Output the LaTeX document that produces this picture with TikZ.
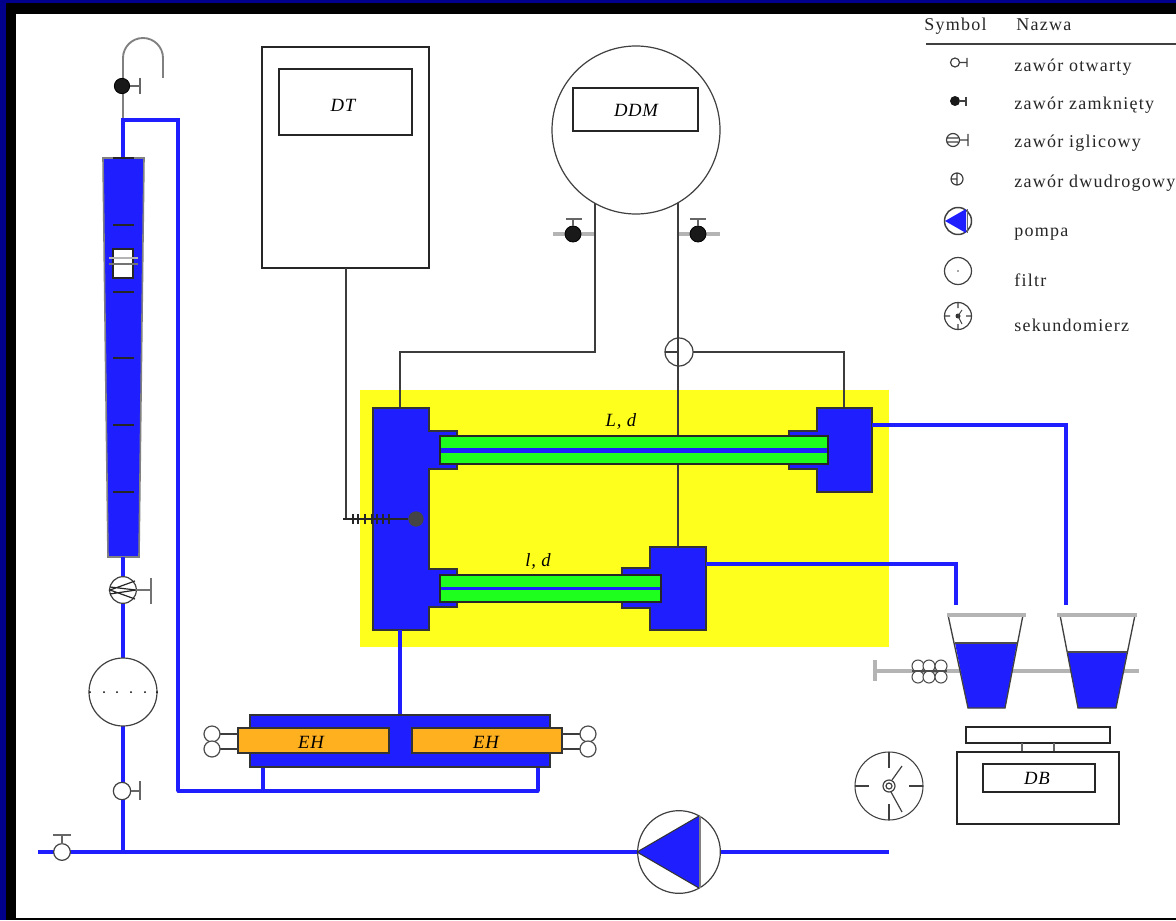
\documentclass[tikz,border=0pt]{standalone}
\usepackage{fontspec}
\setmainfont{Liberation Serif}
\newfontfamily\legfont[LetterSpace=7]{Liberation Serif}
\newfontfamily\labfont[LetterSpace=4,ItalicFont={Liberation Serif Italic}]{Liberation Serif}
\definecolor{navyb}{HTML}{00008C}
\definecolor{pipe}{HTML}{1E1EFF}
\definecolor{yel}{HTML}{FFFF1E}
\definecolor{grn}{HTML}{1EFF1E}
\definecolor{org}{HTML}{FFB01E}
\definecolor{rodgray}{HTML}{B4B4B4}
\definecolor{wire}{HTML}{3C3C3C}
\definecolor{sens}{HTML}{444444}
\tikzset{
  wireline/.style={draw=wire,line width=1pt},
  pipeline/.style={draw=pipe,line width=3pt},
  thinpipe/.style={draw=pipe,line width=2.4pt},
  rodline/.style={draw=rodgray,line width=2.4pt},
  bx/.style={draw=black!85,line width=1.1pt,fill=white,inner sep=0pt,outer sep=0pt},
  blueblock/.style={draw=black!80,line width=1.2pt,fill=pipe,line join=miter},
  tube/.style={draw=black!85,line width=1.3pt,fill=grn,inner sep=0pt,outer sep=0pt},
  heater/.style={draw=black!80,line width=1.1pt,fill=org,inner sep=0pt,outer sep=0pt},
  vcirc/.style={circle,draw=black!75,line width=.9pt,fill=white,inner sep=0pt,outer sep=0pt},
  vclosed/.style={circle,draw=black,line width=.6pt,fill=black!90,inner sep=0pt,outer sep=0pt},
  lab/.style={font=\labfont\itshape\fontsize{14}{16}\selectfont,inner sep=0pt},
  leg/.style={anchor=west,inner sep=0pt,font=\legfont\fontsize{13.5}{16}\selectfont,text=black!85},
  handle/.style={draw=black!60,line width=1pt},
}
\newcommand{\bxnode}[7]{%
  \pgfmathsetmacro{\bxcx}{(#3+#5)/2}\pgfmathsetmacro{\bxcy}{(#4+#6)/2}%
  \pgfmathsetmacro{\bxw}{(#5-#3)*.75}\pgfmathsetmacro{\bxh}{(#6-#4)*.75}%
  \node[#2,rectangle,minimum width=\bxw pt,minimum height=\bxh pt] (#1) at (\bxcx,\bxcy) {#7};}
\begin{document}
\begin{tikzpicture}[x=.75pt,y=-.75pt]
\useasboundingbox (0,0) rectangle (1176,920);
% frame
\fill[black] (0,0) rectangle (1176,920);
\fill[navyb] (0,0) rectangle (1176,3);
\fill[navyb] (0,0) rectangle (6,920);
\fill[white] (16,14) rectangle (1176,918);
% yellow field
\fill[yel] (360,390) rectangle (889,647);
% DT
\bxnode{dt}{bx}{262}{47}{429}{268}{}
\bxnode{dtd}{bx}{279}{69}{412}{135}{}
\node[lab] (dtl) at (343,105) {DT};
% DDM
\node[vcirc,minimum size=126pt] (ddm) at (636,130) {};
\bxnode{ddmd}{bx}{573}{88}{698}{131}{}
\node[lab] (ddml) at (636,110) {DDM};
% rods for DDM valves
\coordinate (vlL) at (553,234); \coordinate (vlR) at (595,234);
\coordinate (vrL) at (678,234); \coordinate (vrR) at (720,234);
\draw[rodline] (vlL) -- (vlR);
\draw[rodline] (vrL) -- (vrR);
\node[vclosed,minimum size=12pt] (vl) at (573,234) {};
\node[vclosed,minimum size=12pt] (vr) at (698,234) {};
\draw[handle] (vl.north) -- (573,219) (566,219) -- (582,219);
\draw[handle] (vr.north) -- (698,219) (690,219) -- (706,219);
% tubes etc
\coordinate (jl) at (595,352);
\coordinate (lt) at (400,408);
\coordinate (rt) at (844,408);
\coordinate (bt) at (678,547);
\node[vcirc,minimum size=21pt] (tw) at (679,352) {};
\draw[wireline] (tw.west) -- (tw.center);
\draw[wireline] (ddm.240.8 -| jl) -- (jl) -- (400,352) -- (lt);
\draw[wireline] (ddm.-60 -| bt) -- (bt);
\draw[wireline] (tw.east) -- (844,352) -- (rt);
% DT line + sensor
\coordinate (dtj) at (346,519);
\draw[wireline] (dt.south -| dtj) -- (dtj);
% blocks
\draw[blueblock] (373,408) -- (429,408) -- (429,431) -- (457,431) -- (457,469) -- (429,469) -- (429,569) -- (457,569) -- (457,607) -- (429,607) -- (429,630) -- (373,630) -- cycle;
\draw[blueblock] (872,408) -- (817,408) -- (817,431) -- (789,431) -- (789,469) -- (817,469) -- (817,492) -- (872,492) -- cycle;
\draw[blueblock] (706,547) -- (650,547) -- (650,568) -- (622,568) -- (622,608) -- (650,608) -- (650,630) -- (706,630) -- cycle;
\foreach \tx in {353,358,365,372,377,383,389}{\draw[black!85,line width=1pt] (\tx,514) -- (\tx,524);}
\node[circle,fill=sens,minimum size=11.5pt,inner sep=0pt] (sensor) at (416,519) {};
\draw[black!85,line width=1pt] (343,519) -- (sensor);
% green tubes
\bxnode{t1}{tube}{440}{436}{828}{464}{}
\fill[pipe] (441,447.5) rectangle (827,452.5);
\bxnode{t2}{tube}{440}{575}{661}{602}{}
\fill[pipe] (441,587) rectangle (660,590);
\node[lab] (l1) at (621,421) {L, d};
\node[lab] (l2) at (538,561) {l, d};
% outlets
\coordinate (o1) at (1066,605); \coordinate (o2) at (956,605);
\draw[pipeline,line join=miter] (872,425) -- (1066,425) -- (o1);
\draw[pipeline,line join=miter] (706,564) -- (956,564) -- (o2);
% beakers
\draw[rodline] (875,671) -- (1139,671);
\draw[rodline] (875,660) -- (875,681);
\foreach \cx in {918,929,941}{\foreach \cy in {666,677}{\draw[black!70,line width=.8pt,fill=white] (\cx,\cy) circle (6);}}
\draw[black!70,line width=1pt] (912,671) -- (947,671);
\fill[pipe] (955,643) -- (1017,643) -- (1005,708) -- (968,708) -- cycle;
\fill[pipe] (1067,652) -- (1127,652) -- (1116,708) -- (1078,708) -- cycle;
\draw[black!75,line width=1pt] (948,615) -- (968,708) -- (1005,708) -- (1023,615);
\draw[black!75,line width=1pt] (1060,615) -- (1078,708) -- (1116,708) -- (1135,615);
\draw[black!70,line width=.9pt] (955,643) -- (1017,643) (1067,652) -- (1127,652);
\draw[rodline] (947,615) -- (1026,615);
\draw[rodline] (1057,615) -- (1137,615);
% balance
\bxnode{plate}{bx}{966}{727}{1110}{743}{}
\draw[black!60,line width=1pt] (1022,743) -- (1022,752) (1054,743) -- (1054,752);
\bxnode{bal}{bx}{957}{752}{1119}{824}{}
\bxnode{bald}{bx}{983}{764}{1095}{792}{}
\node[lab] (dbl) at (1037,778) {DB};
% stopwatch
\node[vcirc,minimum size=51pt,line width=.8pt] (sw) at (889,786) {};
\draw[black!75,line width=.9pt] (889,752) -- (889,768) (889,804) -- (889,820) (855,786) -- (869,786) (909,786) -- (923,786);
\draw[black!75,line width=.9pt] (889,786) circle (6) (889,786) circle (3);
\draw[black!75,line width=.9pt] (892,780) -- (902,766) (891,792) -- (902,812);
% rotameter
\coordinate (rtop) at (123,158);
\draw[draw=black!50,line width=1.4pt] (123,120) -- (123,58) arc[start angle=180,end angle=360,radius=20] -- (163,78);
\draw[pipeline,line join=miter] (178,791) -- (178,120) -- (123,120) -- (rtop);
\draw[blueblock,draw=black!50] (103,158) -- (144,158) -- (139,557) -- (108,557) -- cycle;
\foreach \ty in {225,292,358,425,492}{\draw[black!85,line width=1pt] (113,\ty) -- (134,\ty);}
\draw[black!85,line width=1pt] (113,158) -- (134,158);
\bxnode{flt}{bx}{113}{249}{133}{278}{}
\draw[rodgray,line width=1.5pt] (109,258) -- (138,258);
\draw[black!55,line width=.9pt] (109,264) -- (138,264);
% closed top valve
\node[vclosed,minimum size=11.5pt] (vtop) at (122,86) {};
\draw[handle] (vtop.east) -- (140,86) (140,78) -- (140,94);
% vertical feed
\draw[pipeline] (123,557) -- (123,852);
% needle valve
\node[vcirc,minimum size=20pt] (nv) at (123,590) {};
\draw[black!85,line width=.9pt] (135,581) -- (110,590) -- (135,599) (110,587) -- (136,590) -- (110,594);
\draw[black!55,line width=1.2pt] (nv.east) -- (151,590) (151,578) -- (151,604);
% filter
\node[vcirc,minimum size=51pt,line width=.9pt] (filt) at (123,692) {};
\foreach \dx in {90,104,117,131,145,157}{\fill[black] (\dx,692) circle (1);}
% open valve
\node[vcirc,minimum size=13pt] (ov) at (122,791) {};
\draw[handle] (ov.east) -- (140,791) (140,781) -- (140,800);
% bottom line + pump
\draw[pipeline,line width=2.6pt] (38,852) -- (889,852);
\node[vcirc,minimum size=12.5pt] (inv) at (62,852) {};
\draw[handle] (inv.north) -- (62,835) (53,835) -- (71,835);
\node[vcirc,minimum size=62pt] (pump) at (679,852) {};
\fill[pipe] (637,852) -- (699,816) -- (699,888) -- cycle;
\draw[black!80,line width=.8pt] (637,852) -- (699,816);
\draw[black!80,line width=.8pt] (637,852) -- (699,888);
\draw[black!50,line width=1.2pt] (700,816) -- (700,888);
% heater
\draw[pipeline] (400,630) -- (400,716);
\draw[thinpipe] (263,767) -- (263,791) (538,767) -- (538,791);
\draw[thinpipe,line cap=round] (178,791) -- (538,791);
\bxnode{hb}{blueblock}{250}{715}{550}{767}{}
\bxnode{h1}{heater}{238}{728}{389}{753}{}
\bxnode{h2}{heater}{412}{728}{562}{753}{}
\node[lab] (eh1) at (311,742.5) {EH};
\node[lab] (eh2) at (486,742.5) {EH};
\foreach \cy in {734,749}{
  \draw[wireline] (219,\cy) -- (238,\cy) (562,\cy) -- (581,\cy);
  \draw[black!70,line width=.9pt,fill=white] (212,\cy) circle (8);
  \draw[black!70,line width=.9pt,fill=white] (588,\cy) circle (8);
}
% legend
\node[leg] (ls) at (924,26) {Symbol};
\node[leg] (ln) at (1016,25) {Nazwa};
\draw[black!75,line width=1.4pt] (926,44) -- (1176,44);
\node[leg] (a1) at (1014,67) {zawór otwarty};
\node[leg] (a2) at (1014,105) {zawór zamknięty};
\node[leg] (a3) at (1014,143) {zawór iglicowy};
\node[leg] (a4) at (1014,183) {zawór dwudrogowy};
\node[leg] (a5) at (1014,234) {pompa};
\node[leg] (a6) at (1014,280) {filtr};
\node[leg] (a7) at (1014,325) {sekundomierz};
% legend symbols
\draw[black!75,line width=.9pt] (955,62.5) circle (4.5) (959,62.5) -- (967,62.5) (967,58) -- (967,67);
\fill[black!90] (955,101) circle (5);
\draw[black!75,line width=.9pt] (959,101) -- (966,101) (966,97) -- (966,106);
\draw[black!75,line width=.9pt] (953,140) circle (6.5) (959,140) -- (968,140) (968,134) -- (968,146) (947,138) -- (958,138) (947,142) -- (958,142);
\draw[black!75,line width=.9pt] (957,179) circle (6) (957,173) -- (957,185) (951,179) -- (957,179);
\draw[black!75,line width=1.1pt] (958,221) circle (13.5);
\fill[pipe] (945,221) -- (966,209) -- (966,233) -- cycle;
\draw[black!60,line width=.6pt] (967,209) -- (967,233);
\draw[black!75,line width=.9pt] (958,271) circle (13.5);
\fill[black!70] (958,271) circle (.9);
\draw[black!75,line width=.9pt] (958,316) circle (13.5) (958,302) -- (958,308) (958,324) -- (958,330) (944,316) -- (950,316) (966,316) -- (972,316);
\fill[black!80] (958,316) circle (2.5);
\draw[black!75,line width=.7pt] (958,316) -- (962,310) (958,316) -- (962,324);
\end{tikzpicture}
\end{document}
